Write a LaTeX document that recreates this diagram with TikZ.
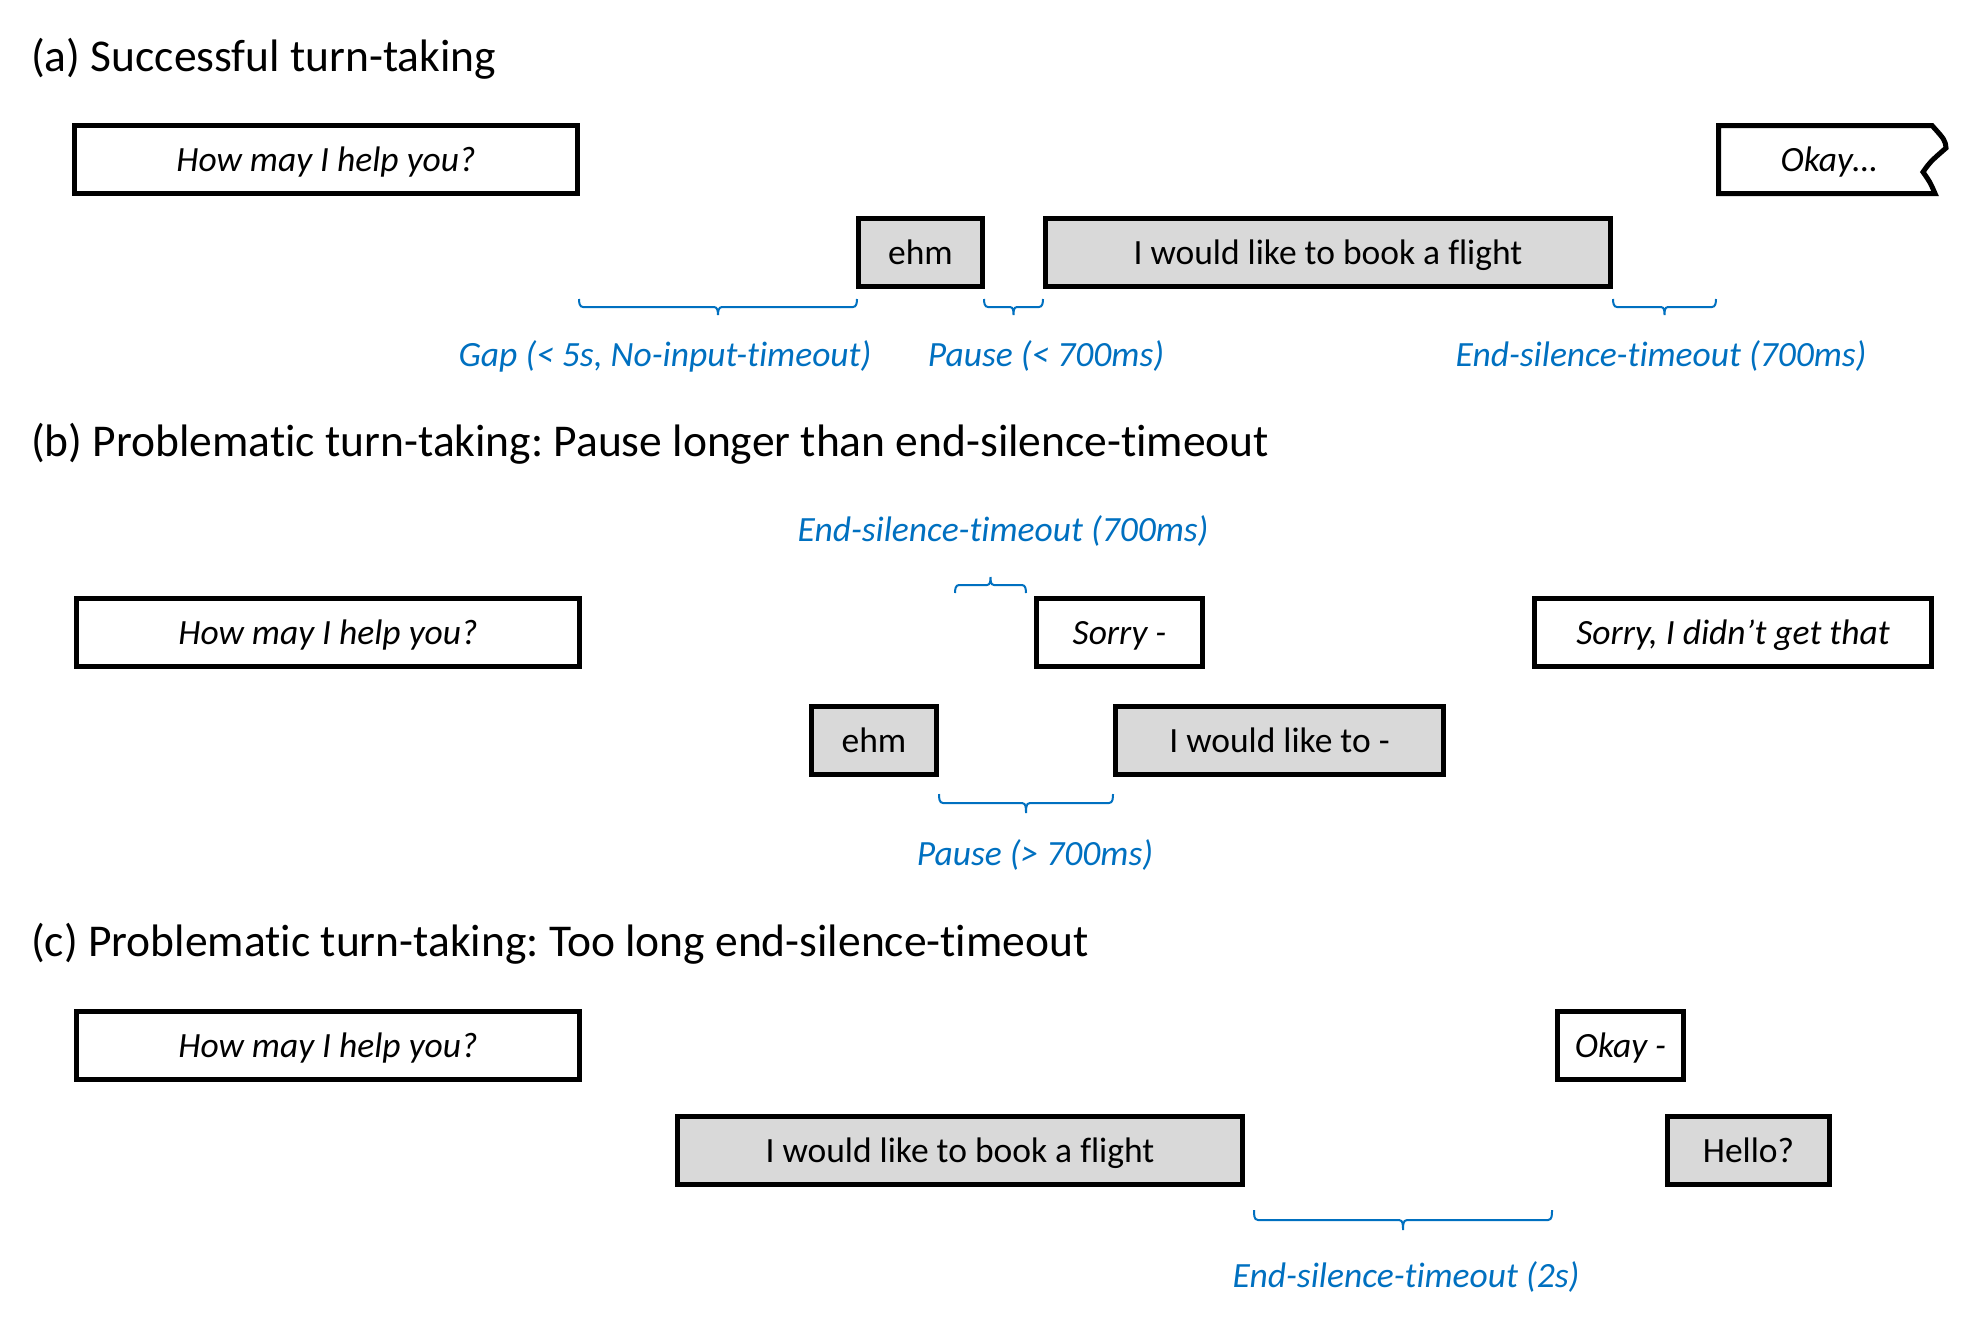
\documentclass[tikz,border=0pt]{standalone}
\usepackage{fontspec}
\setmainfont{Carlito}[Ligatures=NoCommon]
\definecolor{myblue}{HTML}{0070C0}
\definecolor{boxgray}{HTML}{D9D9D9}
\begin{document}
\frenchspacing
\begin{tikzpicture}[x=1pt,y=-1pt,
  wbox/.style={draw=black, line width=5pt, fill=white, minimum height=68pt, inner sep=0pt, text height=32pt, text depth=7.4pt, font=\itshape\fontsize{35.5}{40}\selectfont},
  gbox/.style={wbox, fill=boxgray, font=\fontsize{35.5}{40}\selectfont},
  lbl/.style={text=myblue, inner sep=0pt, yshift=-2pt, font=\itshape\fontsize{35.5}{40}\selectfont},
  ttl/.style={anchor=west, inner sep=0pt, yshift=-2pt, font=\fontsize{45.5}{50}\selectfont},
  brc/.style={draw=myblue, line width=2pt}]
\useasboundingbox (0,0) rectangle (1970,1318);
% ---------- (a)
\node[ttl] (ta) at (31,57) {(a) Successful turn-taking};
\node[wbox, minimum width=503pt] (aq) at (326,159.5) {How may I help you?};
\draw[line width=5pt, fill=white, line join=miter] (1718.5,125.5) -- (1932,125.5) .. controls (1945,140) .. (1946,148) .. controls (1930,162) .. (1923,172) .. controls (1930,182) .. (1935,193.5) -- (1718.5,193.5) -- cycle;
\node[inner sep=0pt, text height=32pt, text depth=7.4pt, font=\itshape\fontsize{35.5}{40}\selectfont] (aok) at (1829,159.5) {Okay…};
\node[gbox, minimum width=124pt] (aehm) at (920.5,252.5) {ehm};
\node[gbox, minimum width=565pt] (afl) at (1328,252.5) {I would like to book a flight};
\draw[brc] (579,299) to[out=-90,in=180] (583,307) -- (714,307) to[out=0,in=90] (718,315) (718,315) to[out=90,in=180] (722,307) -- (853,307) to[out=0,in=-90] (857,299);
\draw[brc] (984,299) to[out=-90,in=180] (988,307) -- (1010,307) to[out=0,in=90] (1013.5,315) (1013.5,315) to[out=90,in=180] (1017,307) -- (1039,307) to[out=0,in=-90] (1043,299);
\draw[brc] (1613,299) to[out=-90,in=180] (1617,307) -- (1661,307) to[out=0,in=90] (1664.5,315) (1664.5,315) to[out=90,in=180] (1668,307) -- (1712,307) to[out=0,in=-90] (1716,299);
\node[lbl] (lgap) at (665,354) {Gap (< 5s, No-input-timeout)};
\node[lbl] (lpa) at (1046,354) {Pause (< 700ms)};
\node[lbl] (lea) at (1661,354) {End-silence-timeout (700ms)};
% ---------- (b)
\node[ttl] (tb) at (31,442) {(b) Problematic turn-taking: Pause longer than end-silence-timeout};
\node[lbl] (leb) at (1003,529) {End-silence-timeout (700ms)};
\draw[brc] (955,593) to[out=90,in=180] (959,585) -- (987,585) to[out=0,in=-90] (990.5,577) (990.5,577) to[out=-90,in=180] (994,585) -- (1022,585) to[out=0,in=90] (1026,593);
\node[wbox, minimum width=503pt] (bq) at (328,632.5) {How may I help you?};
\node[wbox, minimum width=166pt] (bsorry) at (1119.5,632.5) {Sorry -};
\node[wbox, minimum width=397pt] (bsorry2) at (1733,632.5) {Sorry, I didn’t get that};
\node[gbox, minimum width=125pt] (behm) at (874,740.5) {ehm};
\node[gbox, minimum width=328pt] (blike) at (1279.5,740.5) {I would like to -};
\draw[brc] (939,794) to[out=-90,in=180] (943,803) -- (1022,803) to[out=0,in=90] (1026,813) (1026,813) to[out=90,in=180] (1030,803) -- (1109,803) to[out=0,in=-90] (1113,794);
\node[lbl] (lpb) at (1035,853) {Pause (> 700ms)};
% ---------- (c)
\node[ttl] (tc) at (31,942) {(c) Problematic turn-taking: Too long end-silence-timeout};
\node[wbox, minimum width=503pt] (cq) at (328,1045) {How may I help you?};
\node[wbox, minimum width=126pt] (cok) at (1620.5,1045) {Okay -};
\node[gbox, minimum width=565pt] (cfl) at (960,1150) {I would like to book a flight};
\node[gbox, minimum width=162pt] (chello) at (1748.5,1150) {Hello?};
\draw[brc] (1254,1210) to[out=-90,in=180] (1258,1220) -- (1399,1220) to[out=0,in=90] (1403,1230) (1403,1230) to[out=90,in=180] (1407,1220) -- (1548,1220) to[out=0,in=-90] (1552,1210);
\node[lbl] (lec) at (1406,1275) {End-silence-timeout (2s)};
\end{tikzpicture}
\end{document}
